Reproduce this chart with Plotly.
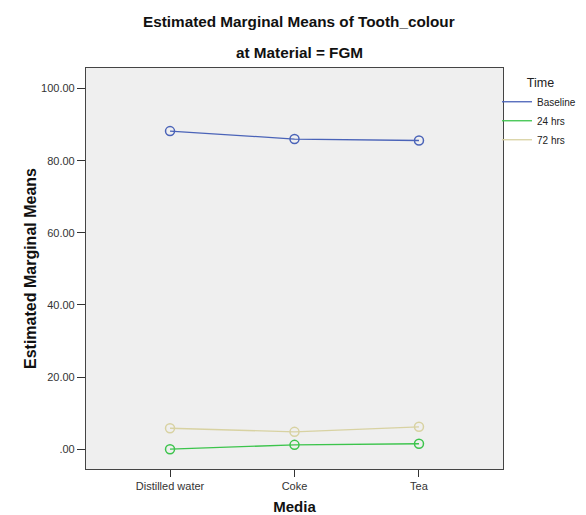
import plotly.graph_objects as go

media = ["Distilled water", "Coke", "Tea"]
times = ["Baseline", "24 hrs", "72 hrs"]
baseline = [88.2, 86.0, 85.6]
hrs24 = [0.0, 1.2, 1.5]
hrs72 = [5.8, 4.8, 6.2]
colors = ["#4a63b8", "#3cc44c", "#d8d2a2"]
y_ticks = [0, 20, 40, 60, 80, 100]
y_tick_text = [".00", "20.00", "40.00", "60.00", "80.00", "100.00"]

OFF = 8  # page body margin
W, H = 586 - OFF, 515 - OFF
ML, MR, MT, MB = 86 - OFF, 83, 68 - OFF, 46
pw = W - ML - MR
ph = H - MT - MB

series = [baseline, hrs24, hrs72]
fig = go.Figure()
for name, vals, c in zip(times, series, colors):
    fig.add_trace(go.Scatter(
        x=list(range(len(media))), y=vals, mode="lines+markers", name=name,
        line=dict(color=c, width=1.3),
        marker=dict(symbol="circle-open", size=9, color=c, line=dict(width=1.5)),
        showlegend=False))
    fig.add_trace(go.Scatter(x=[None], y=[None], mode="lines", name=name,
                             line=dict(color=c, width=1.3), showlegend=True))

def px_x(x):
    return (x - OFF - ML) / pw

def px_y(y):
    return (H - MB - (y - OFF)) / ph

fig.update_layout(
    width=W, height=H,
    margin=dict(l=ML, r=MR, t=MT, b=MB, autoexpand=False),
    paper_bgcolor="white", plot_bgcolor="#efefef",
    font=dict(family="Liberation Sans, Arial, sans-serif", color="#222", size=11),
    legend=dict(title=dict(text="\u00a0" * 8 + "Time", font=dict(size=12.5, color="#222")),
                x=px_x(497), xanchor="left",
                y=px_y(71), yanchor="top", font=dict(size=10, color="#222"), itemwidth=30,
                tracegroupgap=0, bgcolor="rgba(0,0,0,0)"),
    xaxis=dict(range=[-0.675, 2.675], tickvals=list(range(len(media))), ticktext=media,
               showgrid=False, zeroline=False, ticks="outside", ticklen=7,
               tickcolor="#333", showline=True, linecolor="#444", linewidth=1.2,
               mirror=True, title=dict(text="<b>Media</b>", font=dict(size=15, color="#111"), standoff=10),
               tickfont=dict(size=11, color="#333")),
    yaxis=dict(range=[-5.5, 105.7], tickvals=y_ticks, ticktext=y_tick_text,
               showgrid=False, zeroline=False, ticks="outside", ticklen=8,
               tickcolor="#333", showline=True, linecolor="#444", linewidth=1.2,
               mirror=True, title=dict(text="<b>Estimated Marginal Means</b>", font=dict(size=16, color="#111"), standoff=0),
               tickfont=dict(size=11, color="#333")),
    annotations=[
        dict(text="<b>Estimated Marginal Means of Tooth_colour</b>", x=px_x(299), y=px_y(21),
             xref="paper", yref="paper", showarrow=False, font=dict(size=15.3, color="#111"),
             xanchor="center", yanchor="middle"),
        dict(text="<b>at Material = FGM</b>", x=px_x(299), y=px_y(52),
             xref="paper", yref="paper", showarrow=False, font=dict(size=15.3, color="#111"),
             xanchor="center", yanchor="middle"),
    ],
)
fig.write_html("out.html")
